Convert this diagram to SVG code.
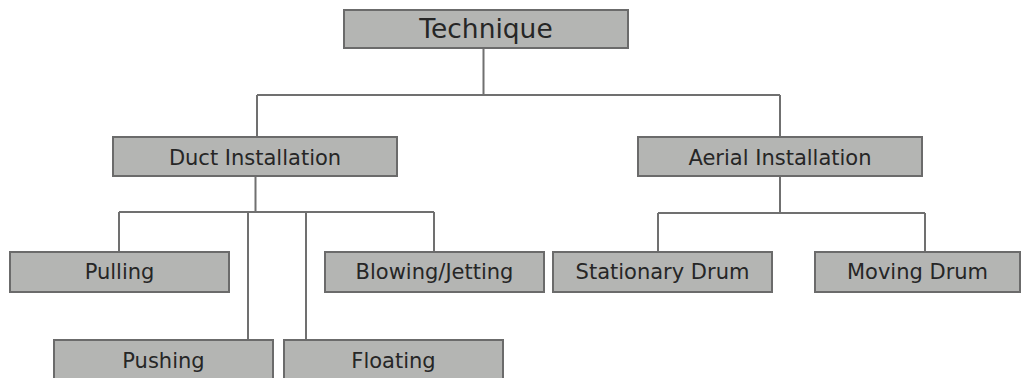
<svg xmlns="http://www.w3.org/2000/svg" width="1022" height="378" viewBox="0 0 1022 378">
<style>
.box{fill:#b4b5b3;stroke:#6b6b6b;stroke-width:2}
.t{font-family:"DejaVu Sans",sans-serif;font-size:21px;fill:#262626;text-anchor:middle}
.big{font-size:26.5px}
.ln{fill:none;stroke:#707070;stroke-width:2}
</style>
<rect width="1022" height="378" fill="#fff"/>
<g id="connectors">
<path class="ln" d="M483.5 48V95M257 95H780M257 95V137M780 95V137"/>
<path class="ln" d="M255.5 176V212M119 212H434M119 212V252M434 212V252M248 212V340M306 212V340"/>
<path class="ln" d="M780 176V213M658 213H925M658 213V252M925 213V252"/>
</g>
<g id="technique"><rect class="box" x="344" y="10" width="284" height="38"/><text class="t big" x="486" y="38">Technique</text></g>
<g id="duct"><rect class="box" x="113" y="137" width="284" height="39"/><text class="t" x="255" y="164.5">Duct Installation</text></g>
<g id="aerial"><rect class="box" x="638" y="137" width="284" height="39"/><text class="t" x="780" y="164.5">Aerial Installation</text></g>
<g id="pulling"><rect class="box" x="10" y="252" width="219" height="40"/><text class="t" x="119.5" y="278.5">Pulling</text></g>
<g id="blowing"><rect class="box" x="325" y="252" width="219" height="40"/><text class="t" x="434.5" y="278.5">Blowing/Jetting</text></g>
<g id="stationary"><rect class="box" x="553" y="252" width="219" height="40"/><text class="t" x="662.5" y="278.5">Stationary Drum</text></g>
<g id="moving"><rect class="box" x="815" y="252" width="205" height="40"/><text class="t" x="917.5" y="278.5">Moving Drum</text></g>
<g id="pushing"><rect class="box" x="54" y="340" width="219" height="40"/><text class="t" x="163.5" y="367.5">Pushing</text></g>
<g id="floating"><rect class="box" x="284" y="340" width="219" height="40"/><text class="t" x="393.5" y="367.5">Floating</text></g>
</svg>
